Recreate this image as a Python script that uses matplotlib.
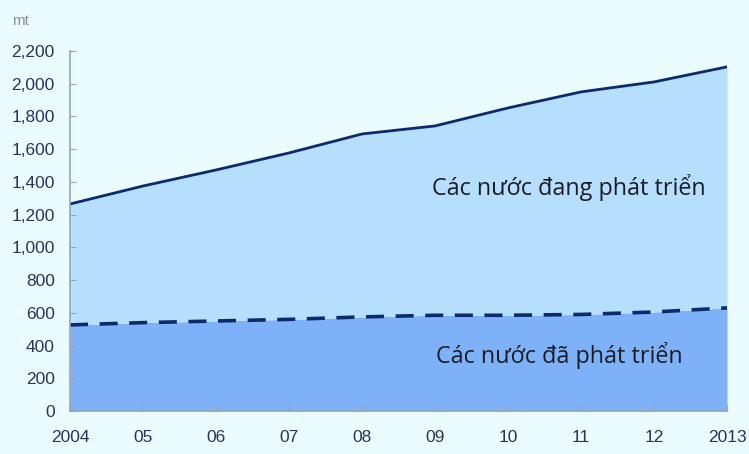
import matplotlib.pyplot as plt
import numpy as np

years = [2004, 2005, 2006, 2007, 2008, 2009, 2010, 2011, 2012, 2013]
year_labels = ["2004", "05", "06", "07", "08", "09", "10", "11", "12", "2013"]
total = [1265, 1375, 1473, 1577, 1693, 1742, 1852, 1950, 2011, 2103]
developed = [526, 540, 550, 560, 575, 585, 585, 590, 605, 630]
y_ticks = list(range(0, 2201, 200))

bg = "#eafcfd"
navy = "#0c2a6c"
axis_grey = "#9aa3b5"

fig = plt.figure(figsize=(7.49, 4.54), dpi=100, facecolor=bg)
ax = fig.add_axes([70 / 749, 43 / 454, 657 / 749, 360 / 454])
ax.set_facecolor(bg)

ax.fill_between(years, 0, developed, color="#7eb2f8", lw=0)
ax.fill_between(years, developed, total, color="#b5dffc", lw=0)
ax.plot(years, total, color=navy, lw=2)
ax.plot(years, developed, color=navy, lw=2.6, ls=(0, (5, 3.2)))

ax.set_xlim(2004, 2013)
ax.set_ylim(0, 2200)
ax.set_xticks(years)
ax.set_xticklabels(year_labels)
ax.set_yticks(y_ticks)
ax.set_yticklabels([f"{v:,}" for v in y_ticks])

for s in ["top", "right"]:
    ax.spines[s].set_visible(False)
for s in ["left", "bottom"]:
    ax.spines[s].set_color(axis_grey)
    ax.spines[s].set_linewidth(1.2)

ax.tick_params(axis="both", direction="in", length=4, color=axis_grey,
               labelcolor="#2a3358", labelsize=12.5)
ax.tick_params(axis="y", pad=11)
ax.tick_params(axis="x", pad=14)
for lab in ax.get_xticklabels() + ax.get_yticklabels():
    lab.set_family("Liberation Sans")

fig.text(12 / 749, 1 - 21 / 454, "mt", color="#8a90a0", fontsize=11,
         family="Liberation Sans", va="center")

ax.text(2010.83, 1363, "Các nước đang phát triển", fontsize=16.8,
        family="Open Sans", color="#1c1c28", ha="center", va="center")
ax.text(2010.7, 342, "Các nước đã phát triển", fontsize=16.8,
        family="Open Sans", color="#1c1c28", ha="center", va="center")

fig.savefig("out.png", dpi=100, facecolor=bg)
